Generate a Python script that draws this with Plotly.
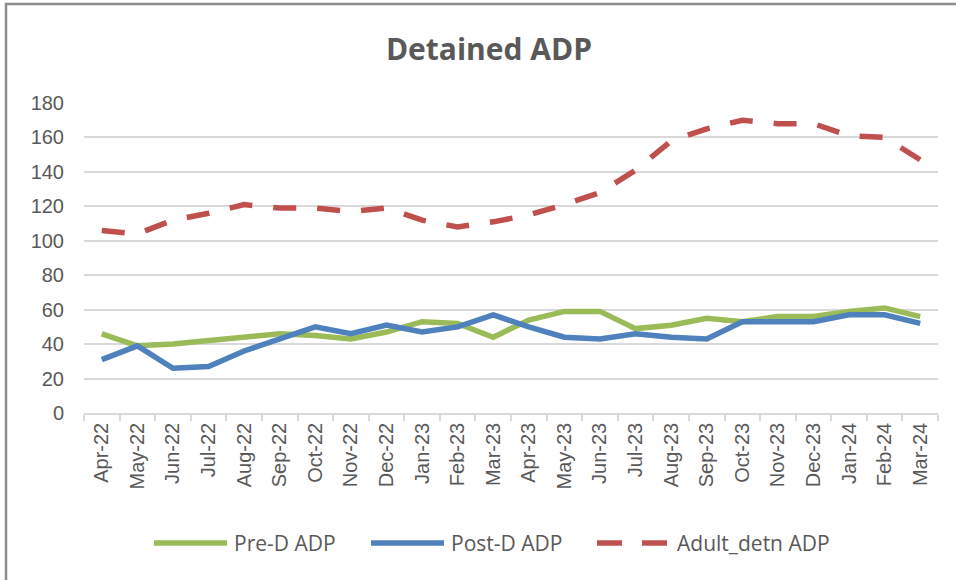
import plotly.graph_objects as go

months = ["Apr-22", "May-22", "Jun-22", "Jul-22", "Aug-22", "Sep-22", "Oct-22", "Nov-22",
          "Dec-22", "Jan-23", "Feb-23", "Mar-23", "Apr-23", "May-23", "Jun-23", "Jul-23",
          "Aug-23", "Sep-23", "Oct-23", "Nov-23", "Dec-23", "Jan-24", "Feb-24", "Mar-24"]

pre_d_adp = [46, 39, 40, 42, 44, 46, 45, 43, 47, 53, 52, 44,
             54, 59, 59, 49, 51, 55, 53, 56, 56, 59, 61, 56]

post_d_adp = [31, 39, 26, 27, 36, 43, 50, 46, 51, 47, 50, 57,
              50, 44, 43, 46, 44, 43, 53, 53, 53, 57, 57, 52]

adult_detn_adp = [106, 104, 112, 116, 121, 119, 119, 117, 119, 112, 108, 111,
                  115, 121, 128, 141, 158, 165, 170, 168, 168, 161, 160, 147]

series_names = ["Pre-D ADP", "Post-D ADP", "Adult_detn ADP"]
colors = ["#9BBB59", "#4F81BD", "#C0504D"]

TEXT = "#595959"
GRID = "#D9D9D9"

W, H = 956, 580
# plot area in window pixels: x 84..938, y 103..413
L, R, T, B = 84, 18, 103, 167
PW, PH = W - L - R, H - T - B


def px_x(px):
    return (px - L) / PW


def px_y(py):
    return (H - B - py) / PH


fig = go.Figure()
fig.add_trace(go.Scatter(x=months, y=pre_d_adp, name=series_names[0], mode="lines",
                         line=dict(color=colors[0], width=5.5)))
fig.add_trace(go.Scatter(x=months, y=post_d_adp, name=series_names[1], mode="lines",
                         line=dict(color=colors[1], width=5.5)))
fig.add_trace(go.Scatter(x=months, y=adult_detn_adp, name=series_names[2], mode="lines",
                         line=dict(color=colors[2], width=5.5, dash="23px,21px")))

shapes = []
annotations = []

# frame lines (top and left border of the chart box)
shapes.append(dict(type="line", xref="paper", yref="paper",
                   x0=px_x(5), x1=px_x(970), y0=px_y(4), y1=px_y(4),
                   line=dict(color="#8C8C8C", width=2.5)))
shapes.append(dict(type="line", xref="paper", yref="paper",
                   x0=px_x(6), x1=px_x(6), y0=px_y(3), y1=px_y(600),
                   line=dict(color="#8C8C8C", width=2.5)))

# custom legend
leg_y = px_y(543)
legend_items = [
    (154, 227, 232, None),
    (371, 444, 449, None),
    (597, 667, 675, "25px,20px"),
]
for (x0, x1, tx, dash), name, col in zip(legend_items, series_names, colors):
    ln = dict(color=col, width=5.5)
    if dash:
        ln["dash"] = dash
    shapes.append(dict(type="line", xref="paper", yref="paper",
                       x0=px_x(x0), x1=px_x(x1), y0=leg_y, y1=leg_y, line=ln))
    annotations.append(dict(xref="paper", yref="paper", x=px_x(tx), y=leg_y,
                            text=name, showarrow=False, xanchor="left", yanchor="middle",
                            font=dict(family="Open Sans", size=21, color=TEXT)))

fig.update_layout(
    width=W, height=H,
    margin=dict(l=L, r=R, t=T, b=B, autoexpand=False),
    paper_bgcolor="white", plot_bgcolor="white",
    showlegend=False,
    title=dict(text="<b>Detained ADP</b>", x=489 / W, xanchor="center",
               y=1 - 49 / H, yanchor="middle", yref="container",
               font=dict(family="Open Sans", size=30, color=TEXT)),
    shapes=shapes,
    annotations=annotations,
    xaxis=dict(
        type="category",
        range=[-0.5, len(months) - 0.5],
        tickangle=-90,
        showgrid=False,
        showline=True, linecolor=GRID, linewidth=1.5,
        ticks="outside", tickson="boundaries", ticklen=6, tickcolor=GRID, tickwidth=1.5,
        tickfont=dict(family="Liberation Sans", size=20, color=TEXT),
        zeroline=False,
    ),
    yaxis=dict(
        range=[0, 180], dtick=20,
        showgrid=True, gridcolor=GRID, gridwidth=1.5,
        showline=False, zeroline=False,
        ticks="", ticklabelstandoff=19,
        tickfont=dict(family="Liberation Sans", size=20, color=TEXT),
    ),
)

fig.write_html(
    "out.html",
    config={"displayModeBar": False},
    post_script="document.body.style.margin='0';document.body.style.overflow='hidden';",
)
